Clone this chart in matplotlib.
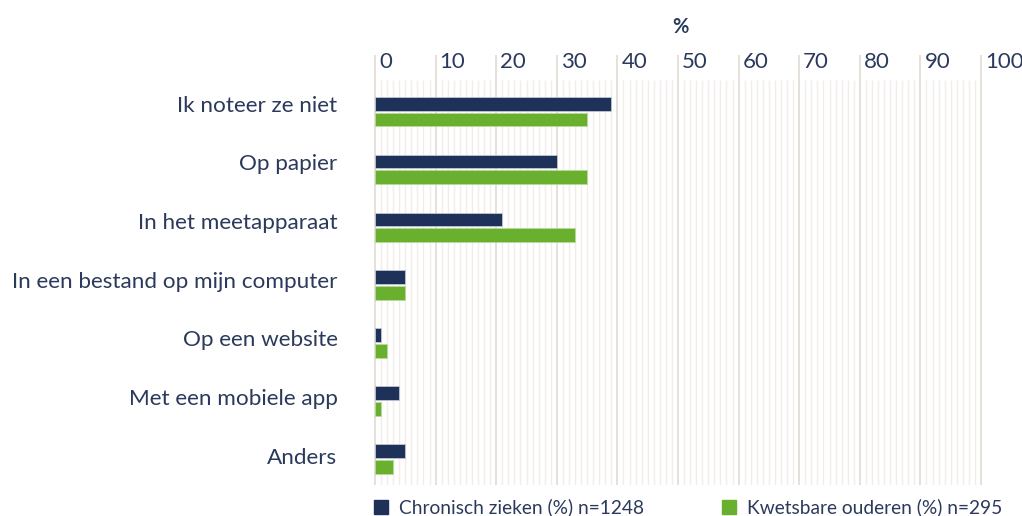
import matplotlib
matplotlib.use("Agg")
import matplotlib.pyplot as plt
import matplotlib.transforms as mtransforms
from matplotlib.patches import Rectangle
import numpy as np

categories = ["Ik noteer ze niet", "Op papier", "In het meetapparaat",
              "In een bestand op mijn computer", "Op een website",
              "Met een mobiele app", "Anders"]
chronisch = [39, 30, 21, 5, 1, 4, 5]
ouderen = [35, 35, 33, 5, 2, 1, 3]
series_names = ["Chronisch zieken (%) n=1248", "Kwetsbare ouderen (%) n=295"]
major_ticks = [0, 10, 20, 30, 40, 50, 60, 70, 80, 90, 100]
axis_title = "%"

NAVY = "#1e3158"
GREEN = "#6ab02f"
TEXT = "#2b3a5c"
MAJOR = "#e4ddd8"
MINOR = "#f1edea"

plt.rcParams['font.family'] = ['Lato', 'DejaVu Sans']

W, H = 1022, 516
fig = plt.figure(figsize=(W / 100, H / 100), dpi=100)
ax_left, ax_right = 375 / W, 981 / W
ax_top, ax_bottom = 80, 485
ax = fig.add_axes([ax_left, 1 - ax_bottom / H, ax_right - ax_left, (ax_bottom - ax_top) / H])

y = np.arange(len(categories))
px = 1 / 57.9  # one pixel in data units (vertical)
bh = 13.8 * px
off = 7.9 * px
ax.barh(y - off, chronisch, height=bh, color=NAVY, edgecolor="#c9cfdb", linewidth=0.5, zorder=3)
ax.barh(y + off, ouderen, height=bh, color=GREEN, edgecolor="#b9dc9c", linewidth=0.5, zorder=3)

ax.set_xlim(0, 100)
ax.set_ylim(len(categories) - 1 + 26 * px, -31.5 * px)

for s in ax.spines.values():
    s.set_visible(False)
ax.set_xticks([])
ax.set_yticks(y - off + y * 0.8 * px)
ax.set_yticklabels(categories, fontsize=16.2, color=TEXT)
ax.tick_params(axis="y", length=0, pad=27)

xt = ax.get_xaxis_transform()
# minor gridlines
minor = [v for v in range(1, 100) if v % 10 != 0]
ax.vlines(minor, 0, 1, transform=xt, colors=MINOR, linewidth=1, zorder=1)
# major gridlines extended above the axes
ext = 1 + 25 / (ax_bottom - ax_top)
ax.vlines(major_ticks, 0, ext, transform=xt, colors=MAJOR, linewidth=1.3, zorder=2, clip_on=False)

lab_tr = xt + mtransforms.ScaledTranslation(4 / 100, 0, fig.dpi_scale_trans)
lab_y = 1 + 18 / (ax_bottom - ax_top)
for v in major_ticks:
    ax.text(v, lab_y, str(v), transform=lab_tr, ha="left", va="center",
            fontsize=16, color=TEXT, clip_on=False)

fig.text(680 / W, 1 - 27 / H, axis_title, ha="center", va="center",
         fontsize=14.5, fontweight="bold", color=TEXT)

# legend
leg_items = [(374, NAVY, series_names[0]), (722, GREEN, series_names[1])]
for x0, col, name in leg_items:
    fig.patches.append(Rectangle((x0 / W, 1 - 514 / H), 14 / W, 14 / H,
                                 transform=fig.transFigure, color=col))
    fig.text((x0 + 25) / W, 1 - 507 / H, name, ha="left", va="center",
             fontsize=13.8, color=TEXT)

fig.savefig("out.png", dpi=100)
